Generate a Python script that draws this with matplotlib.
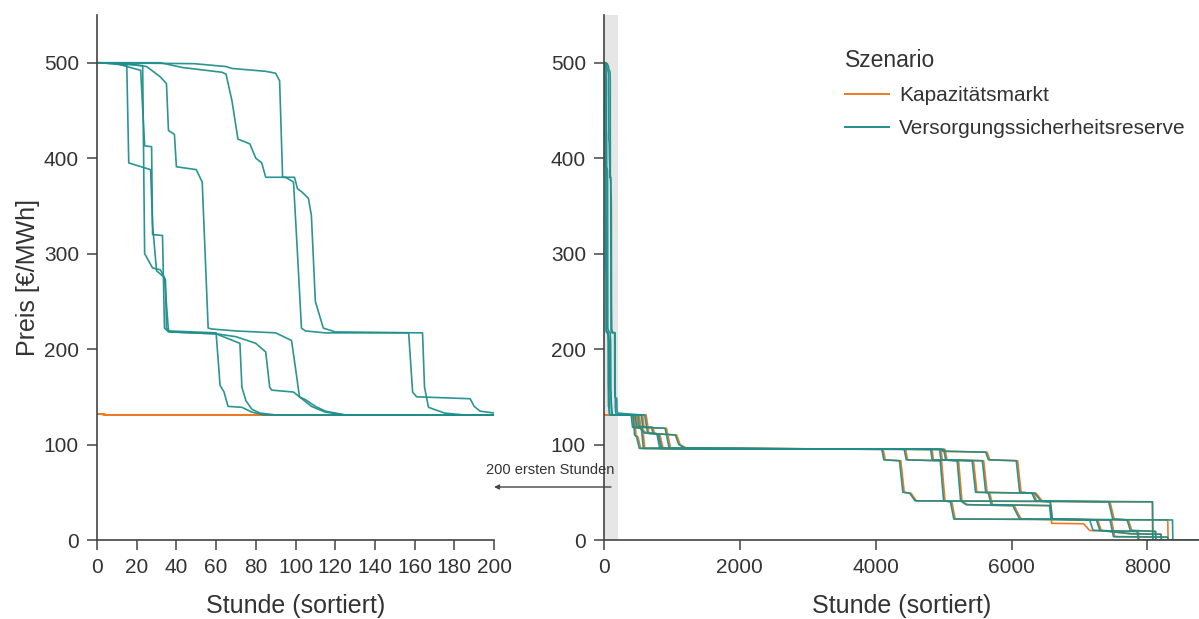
import numpy as np
import matplotlib.pyplot as plt

plt.rcParams["font.family"] = ["Liberation Sans", "DejaVu Sans"]

# sortierte Preisdauerlinien, Stützpunkte (Stunde, Preis in EUR/MWh)
vsr_hours = [
    [0, 8, 15, 16, 27, 28, 30, 34, 36, 60, 62, 64, 66, 73, 78, 84, 400, 420, 550, 580,
     4090, 4120, 4350, 4400, 4500, 4580, 8075, 8080, 8760],
    [0, 10, 22, 24, 27.5, 28, 33, 34, 36, 60, 72, 73, 75, 78, 82, 90, 430, 450, 480,
     520, 4420, 4450, 4950, 5000, 5100, 5150, 8370, 8375, 8760],
    [0, 10, 23, 24, 28, 32, 34.5, 35, 37, 60, 70, 80, 85, 87, 88, 99, 102, 108, 115,
     125, 460, 480, 700, 720, 780, 820, 4810, 4830, 5420, 5470, 6340, 6430, 7430, 7490,
     7700, 7750, 8120, 8125, 8760],
    [0, 15, 25, 32, 35, 36, 39, 40, 50, 53, 56, 58, 70, 90, 98, 100, 102, 105, 110,
     115, 125, 500, 520, 600, 1050, 1100, 1200, 4960, 4990, 5620, 5660, 6070, 6120,
     6300, 6350, 6570, 6600, 7150, 7200, 7850, 7865, 8760],
    [0, 32, 43, 63, 65, 68, 71, 77, 80, 83, 85, 95, 99, 101, 103, 105, 115, 157, 159,
     161, 188, 190, 193, 200, 550, 570, 900, 960, 5000, 5030, 5570, 5620, 5660, 5700,
     6560, 6580, 7250, 7300, 7750, 8200, 8205, 8760],
    [0, 49, 65, 68, 85, 90, 92, 93.5, 99.5, 101, 103, 106.5, 108, 110, 114, 120, 164,
     165, 167, 175, 185, 600, 640, 800, 850, 4940, 4960, 5200, 5250, 5330, 6020, 6060,
     6120, 7450, 7500, 8300, 8305, 8760],
]
vsr_prices = [
    [500, 499, 497, 395, 388, 330, 282, 275, 219, 217, 162, 155, 140, 139, 134, 131,
     131, 118, 117, 96, 95, 84, 83, 50, 49, 41, 40, 0, 0],
    [500, 499, 492, 413, 412, 320, 319, 222, 218, 216, 206, 160, 146, 137, 133, 131,
     131, 110, 108, 96, 95, 84, 83, 41, 40, 22, 21, 0, 0],
    [500, 499, 497, 300, 285, 283, 272, 222, 218, 216, 213, 206, 197, 160, 157, 155,
     150, 140, 134, 131, 131, 119, 118, 112, 111, 96, 95, 84, 83, 50, 49, 41, 40, 22,
     21, 10, 9, 0, 0],
    [500, 499, 496, 485, 478, 429, 425, 391, 388, 375, 222, 221, 219, 217, 209, 180,
     150, 147, 140, 135, 131, 131, 118, 112, 110, 100, 96, 95, 93, 92, 84, 83, 50, 49,
     41, 40, 22, 21, 10, 9, 0, 0],
    [500, 500, 495, 490, 488, 460, 420, 415, 400, 395, 380, 380, 375, 300, 222, 219,
     217, 217, 155, 150, 148, 140, 135, 133, 131, 118, 117, 96, 95, 84, 83, 50, 49,
     37, 36, 22, 21, 10, 6.5, 6, 0, 0],
    [500, 499, 496, 494, 491, 489, 481, 380, 380, 368, 365, 358, 340, 250, 222, 218,
     217, 160, 139, 133, 131, 131, 112, 111, 96, 95, 84, 83, 41, 37, 36, 30, 22, 21,
     3.5, 3, 0, 0],
]

km_hours = [
    [0, 2, 5, 420, 440, 570, 600, 4110, 4140, 4370, 4420, 4520, 4600, 8075, 8080, 8760],
    [0, 2, 5, 450, 470, 500, 540, 4440, 4470, 4970, 5020, 5120, 5170, 8300, 8305, 8760],
    [0, 2, 5, 480, 500, 720, 740, 800, 840, 4830, 4850, 5440, 5490, 6360, 6450, 7450,
     7510, 7720, 7770, 8120, 8125, 8760],
    [0, 2, 5, 520, 540, 620, 1070, 1120, 1220, 4980, 5010, 5640, 5680, 6090, 6140,
     6320, 6370, 6570, 6590, 7060, 7150, 7870, 7875, 8760],
    [0, 2, 5, 570, 590, 920, 980, 5020, 5050, 5590, 5640, 5680, 5720, 6580, 6600,
     7270, 7320, 7770, 8200, 8205, 8760],
    [0, 2, 5, 620, 660, 820, 870, 4960, 4980, 5220, 5270, 5350, 6040, 6080, 6140,
     7470, 7520, 8300, 8305, 8760],
]
km_prices = [
    [132, 132, 131, 131, 118, 117, 96, 95, 84, 83, 50, 49, 41, 40, 0, 0],
    [132, 132, 131, 131, 110, 108, 96, 95, 84, 83, 41, 40, 22, 21, 0, 0],
    [132, 132, 131, 131, 119, 118, 112, 111, 96, 95, 84, 83, 50, 49, 41, 40, 22, 21,
     10, 9, 0, 0],
    [132, 132, 131, 131, 118, 112, 110, 100, 96, 95, 93, 92, 84, 83, 50, 49, 41, 40,
     17.5, 17, 10, 9, 0, 0],
    [132, 132, 131, 131, 118, 117, 96, 95, 84, 83, 50, 49, 37, 36, 22, 21, 10, 6.5,
     6, 0, 0],
    [132, 132, 131, 131, 112, 111, 96, 95, 84, 83, 41, 37, 36, 30, 22, 21, 3.5, 3, 0,
     0],
]

c_km = "#ee7a22"
c_vsr = "#1f8f8c"
text_c = "#333333"


def style_axis(ax):
    for side in ["top", "right"]:
        ax.spines[side].set_visible(False)
    for side in ["left", "bottom"]:
        ax.spines[side].set_color("#444444")
        ax.spines[side].set_linewidth(1.2)
    ax.tick_params(colors="#444444", labelcolor=text_c, labelsize=15, length=7,
                   width=1.1, pad=6)
    ax.set_ylim(0, 550)
    ax.set_yticks([0, 100, 200, 300, 400, 500])
    ax.set_xlabel("Stunde (sortiert)", fontsize=18, color=text_c, labelpad=12)


fig = plt.figure(figsize=(11.99, 6.19), dpi=100)
ax1 = fig.add_axes([97 / 1199, 79 / 619, 397 / 1199, 525 / 619])
ax2 = fig.add_axes([604 / 1199, 79 / 619, 595 / 1199, 525 / 619])

for ax in (ax1, ax2):
    for h, p in zip(km_hours, km_prices):
        ax.plot(h, p, color=c_km, lw=1.2)
    for h, p in zip(vsr_hours, vsr_prices):
        ax.plot(h, p, color=c_vsr, lw=1.2, alpha=0.95)
    style_axis(ax)

ax1.set_xlim(0, 200)
ax1.set_xticks(np.arange(0, 201, 20))
ax1.set_ylabel("Preis [€/MWh]", fontsize=18, color=text_c, labelpad=3)

ax2.set_xlim(0, 8760)
ax2.set_xticks([0, 2000, 4000, 6000, 8000])
ax2.axvspan(0, 200, color="#e6e6e6", zorder=0, lw=0)

h_km, = ax2.plot([], [], color=c_km, lw=1.4, label="Kapazitätsmarkt")
h_vsr, = ax2.plot([], [], color=c_vsr, lw=1.4, label="Versorgungssicherheitsreserve")
leg = ax2.legend([h_km, h_vsr], ["Kapazitätsmarkt", "Versorgungssicherheitsreserve"],
                 title="Szenario", loc="upper left",
                 bbox_to_anchor=(845 / 1199, 1 - 49 / 619),
                 bbox_transform=fig.transFigure, frameon=False, fontsize=15,
                 title_fontsize=16.5, handlelength=2.1, handletextpad=0.5,
                 labelspacing=0.68, borderpad=0, borderaxespad=0, alignment="left")
for t in leg.get_texts():
    t.set_color(text_c)
leg.get_title().set_color(text_c)

fig.text(550 / 1199, 1 - 470 / 619, "200 ersten Stunden", fontsize=10.5,
         color=text_c, ha="center", va="center", zorder=10)
fig.add_artist(plt.Annotation("", xy=(494 / 1199, 1 - 487 / 619), xycoords="figure fraction",
                              xytext=(611 / 1199, 1 - 487 / 619), textcoords="figure fraction",
                              arrowprops=dict(arrowstyle="-|>", color="#444444", lw=1.0,
                                              mutation_scale=7, shrinkA=0, shrinkB=0)))

fig.savefig("out.png", dpi=100)
